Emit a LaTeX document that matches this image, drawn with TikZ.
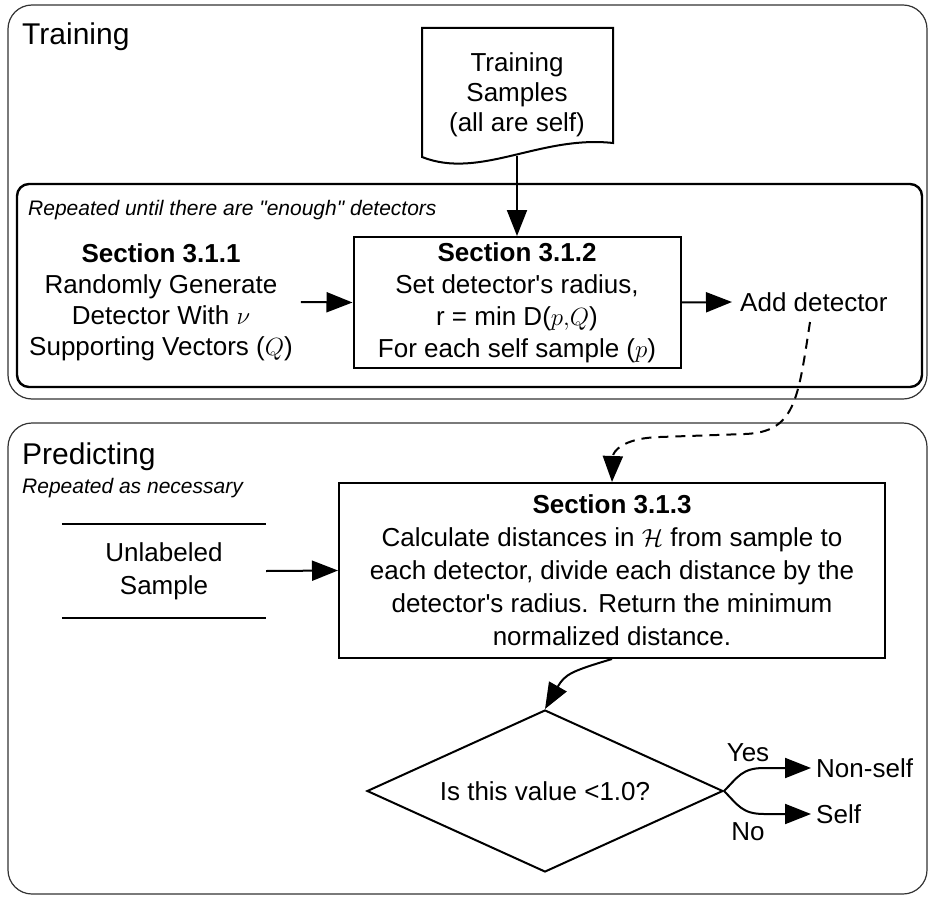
\documentclass[tikz,border=0pt]{standalone}
\usepackage{fontspec}
\setmainfont{Liberation Sans}[Ligatures=TeXOff]
\usetikzlibrary{arrows.meta,shapes.geometric}
\begin{document}
\begin{tikzpicture}[x=1pt,y=-1pt,
  every node/.style={font=\fontsize{26}{31}\selectfont, inner sep=0pt},
  frame/.style={draw=black!80, line width=1.2pt, rounded corners=24pt},
  loopbox/.style={draw, line width=2.4pt, rounded corners=12pt},
  procbox/.style={draw, line width=2pt, align=center},
  flow/.style={line width=2pt, -{Triangle[length=26pt,width=20pt]}},
  title/.style={font=\fontsize{30}{36}\selectfont, anchor=base west},
  note/.style={font=\fontsize{21}{25}\selectfont\itshape, anchor=base west},
  plain/.style={align=center},
]
\useasboundingbox (0,0) rectangle (928,896);

% phase frames
\draw[frame] (8,5) rectangle (927,399);
\draw[frame] (8,423) rectangle (927,894);
\node[title] (ttrain) at (22,45) {Training};
\node[title] (tpred) at (22,464) {Predicting};
\node[note] (npred) at (22,493) {Repeated as necessary};

% detector generation loop
\draw[loopbox] (17,184) rectangle (922,387);
\node[note] (nloop) at (28,215) {Repeated until there are "enough" detectors};

% training data (document symbol)
\draw[line width=2pt] (422,157) -- (422,28) -- (613,28) -- (613,143)
  .. controls (540,135) and (480,180) .. (422,157) -- cycle;
\node[plain, font=\fontsize{26}{30}\selectfont] (doc) at (517,95) {Training\\Samples\\(all are self)};
\coordinate (docb) at (517,156);

\node[plain] (s311) at (161,302) {\textbf{Section 3.1.1}\\Randomly Generate\\Detector With $\nu$\\Supporting Vectors ($Q$)};
\node[procbox, minimum width=327pt, minimum height=131pt, font=\fontsize{26}{32}\selectfont]
  (s312) at (517,302.5) {\textbf{Section 3.1.2}\\Set detector's radius,\\r = min D($p{,}Q$)\\For each self sample ($p$)};
\node[anchor=west] (add) at (740,302) {Add detector};
\coordinate (dstart) at (810,322);

\draw[flow] (docb) -- (s312.north);
\draw[flow] ([xshift=8pt]s311.east) -- (s312.west);
\draw[flow] (s312.east) -- ([xshift=-8pt]add.west);

% prediction
\node[plain, minimum width=204pt, minimum height=93pt, font=\fontsize{26}{33}\selectfont]
  (unl) at (164,571) {Unlabeled\\Sample};
\draw[line width=2pt] (unl.north west) -- (unl.north east) (unl.south west) -- (unl.south east);

\node[procbox, minimum width=546pt, minimum height=175pt, font=\fontsize{26}{33}\selectfont]
  (s313) at (612,570.5) {\textbf{Section 3.1.3}\\Calculate distances in $\mathcal{H}$ from sample to\\each detector, divide each distance by the\\detector's radius. Return the minimum\\normalized distance.};

\node[draw, line width=2pt, diamond, shape aspect=2.2, minimum width=356pt, minimum height=162pt]
  (dec) at (545,791) {Is this value <1.0?};
\node[anchor=west] (ns) at (816,768) {Non-self};
\node[anchor=west] (sf) at (816,814) {Self};
\node (yes) at (748,753) {Yes};
\node (no) at (748,832) {No};

\draw[flow, dash pattern=on 10pt off 7pt] (dstart)
  .. controls (798,400) and (795,432) .. (745,434) -- (660,437)
  .. controls (622,438) and (613,452) .. (s313.north);
\draw[flow] (unl.east) -- (s313.west);
\draw[flow] (s313.south) .. controls +(-40,12) and +(20,-35) .. (dec.north);
\draw[flow] (dec.east) .. controls +(14,-14) and +(-22,0) .. ([xshift=-52pt]ns.west) -- ([xshift=-5pt]ns.west);
\draw[flow] (dec.east) .. controls +(14,14) and +(-22,0) .. ([xshift=-52pt]sf.west) -- ([xshift=-5pt]sf.west);
\end{tikzpicture}
\end{document}
